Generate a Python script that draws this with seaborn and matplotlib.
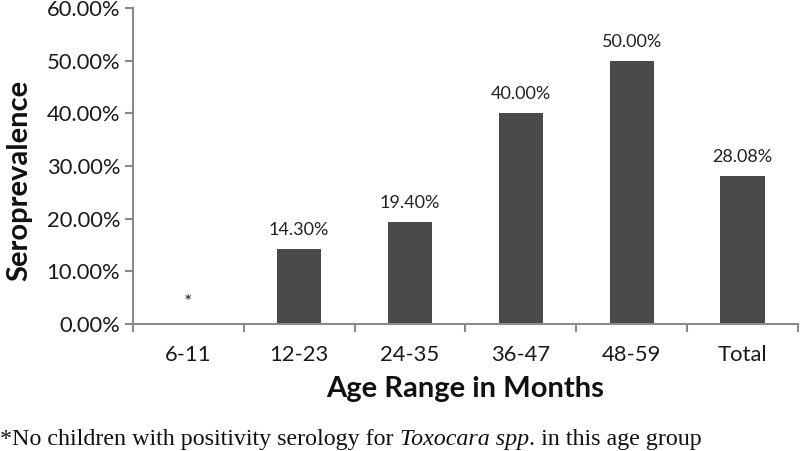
import matplotlib
matplotlib.use("Agg")
import matplotlib.pyplot as plt
import seaborn as sns
import pandas as pd
import numpy as np
from matplotlib.ticker import FuncFormatter, FixedLocator

categories = ["6-11", "12-23", "24-35", "36-47", "48-59", "Total"]
values = [0.0, 0.143, 0.194, 0.40, 0.50, 0.2808]
bar_labels = ["*", "14.30%", "19.40%", "40.00%", "50.00%", "28.08%"]
y_ticks = [0.0, 0.1, 0.2, 0.3, 0.4, 0.5, 0.6]

sns.set_theme(style="white")
plt.rcParams['font.family'] = ['Lato', 'DejaVu Sans']

df = pd.DataFrame({"age": categories, "prev": values})

fig = plt.figure(figsize=(8, 4.51), dpi=100)
ax = fig.add_axes([0.166, 0.2816, 0.8315, 0.7004])
sns.barplot(data=df, x="age", y="prev", color="#4a4a4a", saturation=1,
            width=0.4, ax=ax, edgecolor="none")

ax.set_ylim(0, 0.6)
ax.set_xlim(-0.5, 5.5)
ax.yaxis.set_major_locator(FixedLocator(y_ticks))
ax.yaxis.set_major_formatter(FuncFormatter(lambda v, p: f"{v*100:.2f}%"))

for sp in ["top", "right"]:
    ax.spines[sp].set_visible(False)
for sp in ["left", "bottom"]:
    ax.spines[sp].set_color("#8a8a8a")
    ax.spines[sp].set_linewidth(1.5)

ax.tick_params(axis="y", which="major", left=True, length=6, width=1.5,
               color="#8a8a8a", labelsize=15.8, labelcolor="#1a1a1a", pad=3)
ax.tick_params(axis="x", which="major", bottom=False, labelsize=15.8,
               labelcolor="#1a1a1a", pad=9)
ax.set_xticks(np.arange(-0.5, 6.0, 1.0), minor=True)
ax.tick_params(axis="x", which="minor", bottom=True, length=6, width=1.5,
               color="#8a8a8a")

ax.set_xlabel("Age Range in Months", fontsize=21, fontweight="bold",
              color="#111111", labelpad=8)
ax.set_ylabel("Seroprevalence", fontsize=21, fontweight="bold",
              color="#111111", labelpad=10)
ax.yaxis.label.set_y(0.455)

for i, (v, lab) in enumerate(zip(values, bar_labels)):
    ax.annotate(lab, xy=(i, v), xytext=(0, 8 if lab != "*" else 9),
                textcoords="offset points", ha="center", va="bottom",
                fontsize=13 if lab != "*" else 14, color="#222222")

# footnote with italic part
fig.canvas.draw()
r = fig.canvas.get_renderer()
serif = ['Liberation Serif', 'DejaVu Serif']
parts = [("*No children with positivity serology for ", "normal"),
         ("Toxocara spp", "italic"),
         (". in this age group", "normal")]
x = 0.0
for txt, style in parts:
    t = fig.text(x, 0.014, txt, fontsize=17.3, family=serif, style=style,
                 color="#111111", ha="left", va="baseline")
    bb = t.get_window_extent(renderer=r)
    x += bb.width / fig.bbox.width

fig.savefig("out.png", dpi=100)
